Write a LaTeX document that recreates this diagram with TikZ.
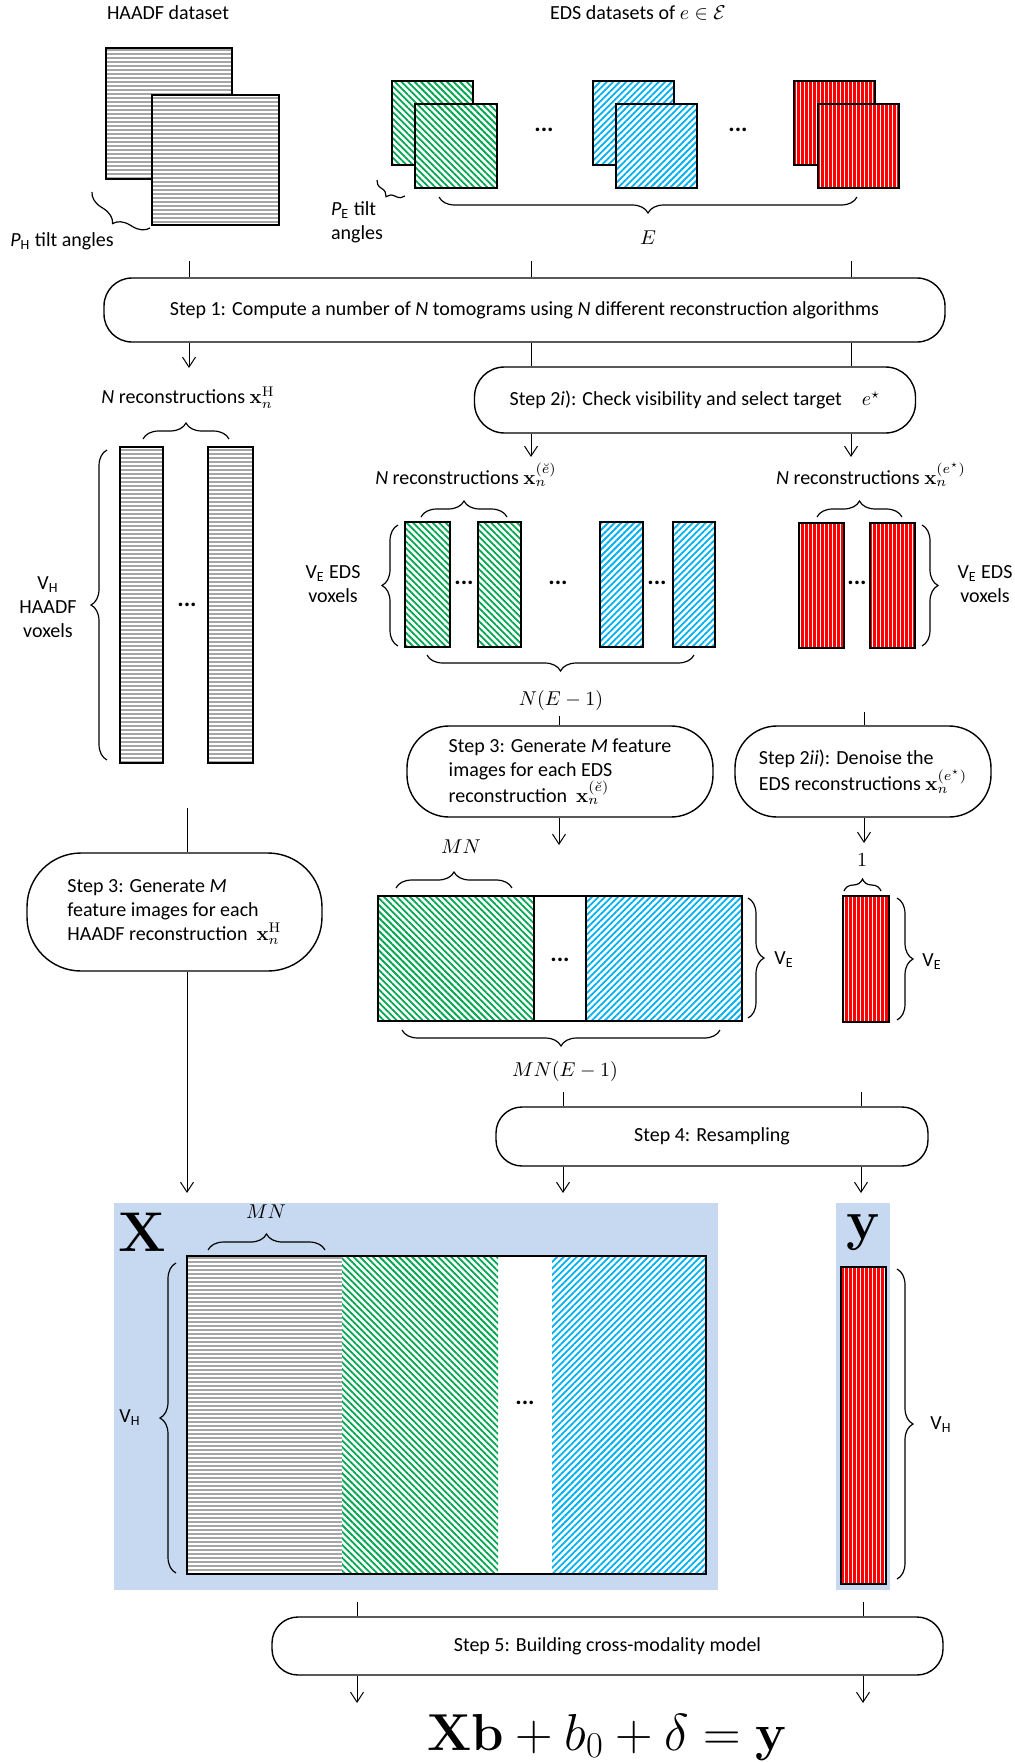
\RequirePackage{fix-cm}
\documentclass[tikz,border=0pt]{standalone}
\usepackage{amssymb}
\usepackage[no-math]{fontspec}
\setmainfont{Carlito}
\usetikzlibrary{arrows,arrows.meta,patterns.meta,decorations.pathreplacing}
\definecolor{eg}{RGB}{0,166,80}
\definecolor{eb}{RGB}{0,176,240}
\definecolor{er}{RGB}{255,0,0}
\definecolor{bgb}{RGB}{198,217,240}

\begin{document}
\begin{tikzpicture}[x=0.5pt, y=-0.5pt, >={Straight Barb[length=5pt,width=6.5pt]}, line width=0.5pt,
	stepbox/.style={draw, line width=0.7pt, rectangle, rounded corners=#1, inner sep=0pt},
	bx/.style={draw, line width=0.8pt},
	pgy/.style={preaction={fill=white}, pattern={Lines[angle=0,distance=2pt,line width=0.8pt]}, pattern color=gray!70},
	pgn/.style={preaction={fill=white}, pattern={Lines[angle=-45,distance=2.3pt,line width=0.9pt]}, pattern color=eg},
	pbl/.style={preaction={fill=white}, pattern={Lines[angle=45,distance=2.3pt,line width=0.9pt]}, pattern color=eb},
	prd/.style={preaction={fill=er}, pattern={Lines[angle=90,distance=2pt,line width=0.45pt]}, pattern color=white},
	brc/.style={decorate, decoration={brace, amplitude=8pt}, line width=0.6pt},
	dts/.style={font=\large\bfseries},
	big/.style={font=\fontsize{28}{30}\selectfont}]
\useasboundingbox (0,0) rectangle (1015,1762);

\node (hd) at (168,13) {HAADF dataset};
\node (ed) at (638,13) {EDS datasets of $e\in\mathcal{E}$};

\draw[bx,pgy] (106,48) rectangle (232,179);
\draw[bx,pgy] (152,95) rectangle (279,225);
\draw[bx,pgn] (392,81) rectangle (473,165);
\draw[bx,pgn] (415,104) rectangle (497,188);
\draw[bx,pbl] (593,81) rectangle (674,165);
\draw[bx,pbl] (616,104) rectangle (697,188);
\draw[bx,prd] (794,81) rectangle (875,165);
\draw[bx,prd] (818,104) rectangle (899,188);
\node[dts] (d1) at (544,130) {...};
\node[dts] (d2) at (738,130) {...};

\draw[brc] (150,228) -- (92,192);
\node (ph) at (62,241) {\textit{P}\textsubscript{H} tilt angles};
\draw[brc, decoration={amplitude=5pt}] (405,196) -- (377,180);
\node[align=left] (pe) at (357,222) {\textit{P}\textsubscript{E} tilt\\angles};
\draw[brc] (857,197) -- (439,197);
\node (el) at (648,238) {$E$};

\node[stepbox=14pt, minimum width=420.5pt, minimum height=32pt] (s1) at (524.5,310) {Step 1: Compute a number of \textit{N} tomograms using \textit{N} different reconstruction algorithms};
\coordinate (c1) at (189,261);
\coordinate (c2) at (531,261);
\coordinate (c3) at (851,261);
\path (c1) edge (c1 |- s1.north)
	(c2) edge (c2 |- s1.north)
	(c3) edge (c3 |- s1.north);

\node[stepbox=15pt, minimum width=220.5pt, minimum height=33pt] (s2a) at (695,400) {Step 2\textit{i}): Check visibility and select target\quad$e^{\star}$};
\coordinate (a1) at (189,368);
\coordinate (a2) at (531,457);
\coordinate (a3) at (851,457);
\path[->] (s1.south -| a1) edge (a1);
\path (s1.south -| a2) edge (s2a.north -| a2)
	(s1.south -| a3) edge (s2a.north -| a3);
\path[->] (s2a.south -| a2) edge (a2)
	(s2a.south -| a3) edge (a3);

% HAADF reconstructions
\node (nh) at (188,398) {\textit{N} reconstructions $\mathbf{x}_n^{\mathrm{H}}$};
\draw[brc] (143,439) -- (229,439);
\draw[bx,pgy] (120,447) rectangle (163,763);
\draw[bx,pgy] (208,447) rectangle (253,763);
\node[dts] (d3) at (187,605) {...};
\draw[brc] (107,760) -- (107,450);
\node[align=center] (vh) at (48,607) {V\textsubscript{H}\\HAADF\\voxels};

% EDS reconstructions
\node (ne) at (466,475) {\textit{N} reconstructions $\mathbf{x}_n^{(\breve{e})}$};
\draw[brc] (421,517) -- (507,517);
\draw[bx,pgn] (405,522) rectangle (450,647);
\draw[bx,pgn] (478,522) rectangle (521,647);
\draw[bx,pbl] (600,522) rectangle (643,647);
\draw[bx,pbl] (673,522) rectangle (715,647);
\node[dts] (d4) at (464,583) {...};
\node[dts] (d5) at (558,583) {...};
\node[dts] (d6) at (657,583) {...};
\draw[brc] (398,646) -- (398,525);
\node[align=center] (ve1) at (333,584) {V\textsubscript{E} EDS\\voxels};
\draw[brc] (694,655) -- (427,655);
\node (ne1) at (561,700) {$N(E-1)$};

\node (nr) at (871,475) {\textit{N} reconstructions $\mathbf{x}_n^{(e^{\star})}$};
\draw[brc] (817,517) -- (902,517);
\draw[bx,prd] (799,523) rectangle (844,648);
\draw[bx,prd] (870,523) rectangle (915,648);
\node[dts] (d7) at (857,583) {...};
\draw[brc] (922,525) -- (922,646);
\node[align=center] (ve2) at (985,584) {V\textsubscript{E} EDS\\voxels};

% features
\node[stepbox=21pt, align=left, minimum width=153pt, minimum height=45.5pt] (s3e) at (560,771.5) {Step 3: Generate \textit{M} feature\\images for each EDS\\reconstruction~~$\mathbf{x}_n^{(\breve{e})}$};
\node[stepbox=21pt, align=left, minimum width=128pt, minimum height=45.5pt] (s2b) at (863,771.5) {Step 2\textit{ii}): Denoise the\\EDS reconstructions $\mathbf{x}_n^{(e^{\star})}$};
\coordinate (c4) at (559,716);
\coordinate (c5) at (864,712);
\coordinate (a4) at (559,845);
\coordinate (a5) at (864,843);
\path (c4) edge (c4 |- s3e.north)
	(c5) edge (c5 |- s2b.north);
\path[->] (s3e.south -| a4) edge (a4)
	(s2b.south -| a5) edge (a5);

\node (mn1) at (461,847) {$MN$};
\draw[brc] (396,888) -- (512,888);
\draw[bx,pgn] (378,896) rectangle (534,1021);
\draw[bx] (534,896) rectangle (586,1021);
\draw[bx,pbl] (586,896) rectangle (742,1021);
\node[dts] (d8) at (560,960) {...};
\draw[brc] (748,898) -- (748,1018);
\node (ve3) at (784,960) {V\textsubscript{E}};
\draw[brc] (720,1030) -- (402,1030);
\node (mne) at (565,1071) {$MN(E-1)$};

\node (one) at (862,860) {$1$};
\draw[brc, decoration={amplitude=6pt}] (844,891) -- (881,891);
\draw[bx,prd] (843,896) rectangle (889,1022);
\draw[brc] (897,898) -- (897,1020);
\node (ve4) at (932,962) {V\textsubscript{E}};

\node[stepbox=27pt, align=left, minimum width=147.5pt, minimum height=59pt] (s3h) at (174.5,912) {Step 3: Generate \textit{M}\\feature images for each\\HAADF reconstruction~~$\mathbf{x}_n^{\mathrm{H}}$};
\node[stepbox=13pt, minimum width=216pt, minimum height=29.5pt] (s4) at (712,1136.5) {Step 4: Resampling};
\coordinate (c8) at (187,808);
\coordinate (a8) at (187,1193);
\coordinate (c6) at (563,1092);
\coordinate (c7) at (861,1092);
\coordinate (a6) at (563,1193);
\coordinate (a7) at (861,1193);
\path (c8) edge (c8 |- s3h.north)
	(c6) edge (c6 |- s4.north)
	(c7) edge (c7 |- s4.north);
\path[->] (s3h.south -| a8) edge (a8)
	(s4.south -| a6) edge (a6)
	(s4.south -| a7) edge (a7);

% X and y
\fill[bgb] (114,1203) rectangle (718,1590);
\fill[bgb] (836,1203) rectangle (890,1590);
\node[big] (xl) at (142,1232) {$\mathbf{X}$};
\node[big] (yl) at (864,1232) {$\mathbf{y}$};
\node (mn2) at (266,1212) {$MN$};
\draw[brc] (208,1250) -- (325,1250);
\fill[white] (187,1256) rectangle (706,1574);
\path[pgy] (187,1256) rectangle (342,1574);
\path[pgn] (342,1256) rectangle (498,1574);
\path[pbl] (552,1256) rectangle (706,1574);
\draw[bx] (187,1256) rectangle (706,1574);
\node[dts] (d9) at (525,1403) {...};
\draw[brc] (176,1573) -- (176,1263);
\node (vh2) at (130,1418) {V\textsubscript{H}};
\draw[bx,prd] (841,1267) rectangle (886,1584);
\draw[brc] (897,1269) -- (897,1579);
\node (vh3) at (941,1425) {V\textsubscript{H}};

\node[stepbox=13pt, minimum width=335.5pt, minimum height=29pt] (s5) at (607.5,1646) {Step 5: Building cross-modality model};
\coordinate (c9) at (357,1602);
\coordinate (c10) at (863,1602);
\coordinate (a9) at (357,1703);
\coordinate (a10) at (863,1703);
\path (c9) edge (c9 |- s5.north)
	(c10) edge (c10 |- s5.north);
\path[->] (s5.south -| a9) edge (a9)
	(s5.south -| a10) edge (a10);

\node (eq) at (607,1737) {\fontsize{26}{30}\selectfont$\mathbf{Xb}+b_0+\delta=\mathbf{y}$};
\end{tikzpicture}
\end{document}
